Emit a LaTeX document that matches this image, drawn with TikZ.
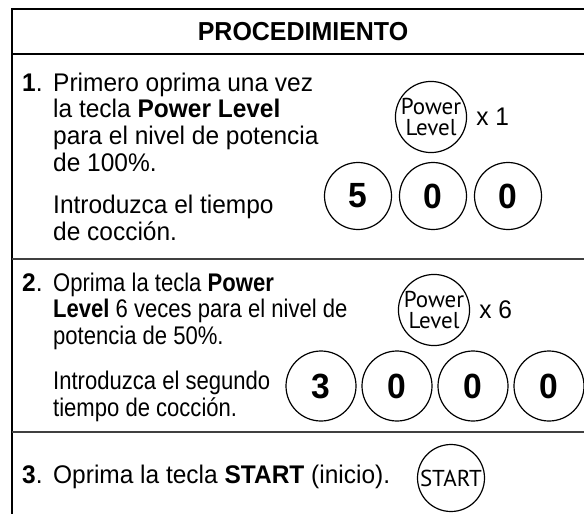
\documentclass[tikz,border=0pt]{standalone}
\usepackage{fontspec}
\setmainfont[FakeStretch=0.96]{Liberation Sans}
\newfontfamily\condfont[FakeStretch=0.865]{Liberation Sans}
\newfontfamily\keyfont{PT Sans}
\usetikzlibrary{positioning}

\begin{document}
\begin{tikzpicture}[
  x=1pt, y=-1pt,
  txt/.style={anchor=base west, align=left, inner sep=0pt, font=\fontsize{25.5}{26.7}\selectfont},
  condtxt/.style={txt, font=\condfont\fontsize{25.5}{26.7}\selectfont},
  num/.style={anchor=base west, inner sep=0pt, font=\fontsize{25.5}{26.7}\selectfont},
  btn/.style={draw, circle, line width=1.2pt, inner sep=0pt, minimum size=#1},
  digitbtn/.style={btn=#1, font=\fontsize{35}{35}\selectfont\bfseries},
  powerbtn/.style={btn=64pt, align=center, font=\keyfont\fontsize{23}{21.5}\selectfont},
  startbtn/.style={btn=67pt, font=\keyfont\fontsize{23}{23}\selectfont},
  times/.style={right=9pt of #1, inner sep=0pt, font=\fontsize{25.5}{26.7}\selectfont},
  frame/.style={line width=2pt},
  rule/.style={line width=1.3pt, black!75},
]
\useasboundingbox (0,0) rectangle (584,514);

% Table lines
\draw[frame] (584,9) -- (11.5,9) -- (11.5,514);
\draw[frame] (11.5,54) -- (584,54);
\draw[rule] (11.5,259) -- (584,259);
\draw[rule] (11.5,432) -- (584,432);

% Header
\node[font=\fontsize{26}{26}\selectfont\bfseries] (title) at (303,32) {PROCEDIMIENTO};

% Step 1 (multi-line text sits on its last baseline)
\node[num] (n1) at (22,91) {\textbf{1}.};
\node[txt] (t1a) at (53,171.1) {Primero oprima una vez\\la tecla \textbf{Power Level}\\para el nivel de potencia\\de 100\%.};
\node[txt] (t1b) at (53,240) {Introduzca el tiempo\\de cocción.};
\node[powerbtn] (pl1) at (431,117) {Power\\Level};
\node[times=pl1] (x1) {x 1};
\node[digitbtn=67pt] (d1a) at (358,196) {5};
\node[digitbtn=67pt] (d1b) at (433,196) {0};
\node[digitbtn=67pt] (d1c) at (508,196) {0};

% Step 2
\node[num] (n2) at (22,291) {\textbf{2}.};
\node[condtxt] (t2a) at (53,344.4) {Oprima la tecla \textbf{Power}\\\textbf{Level} 6 veces para el nivel de\\potencia de 50\%.};
\node[condtxt] (t2b) at (53,416) {Introduzca el segundo\\tiempo de cocción.};
\node[powerbtn] (pl2) at (434,310) {Power\\Level};
\node[times=pl2] (x6) {x 6};
\node[digitbtn=70pt] (d2a) at (321,386) {3};
\node[digitbtn=70pt] (d2b) at (397,386) {0};
\node[digitbtn=70pt] (d2c) at (473,386) {0};
\node[digitbtn=70pt] (d2d) at (549,386) {0};

% Step 3
\node[num] (n3) at (22,483) {\textbf{3}.};
\node[txt] (t3) at (53,483) {Oprima la tecla \textbf{START} (inicio).};
\node[startbtn] (start) at (451,478) {START};

\end{tikzpicture}
\end{document}
